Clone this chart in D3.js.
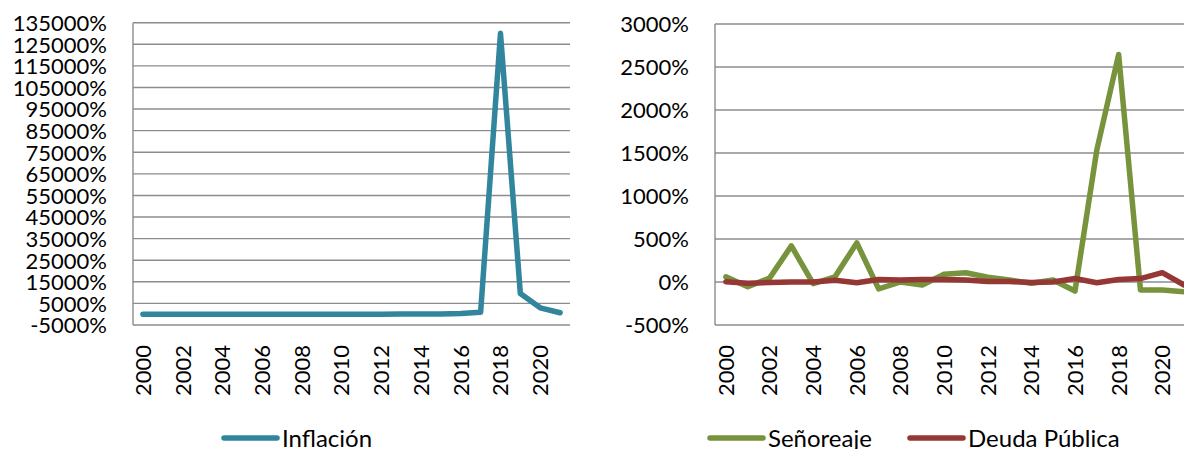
<!DOCTYPE html>
<html>
<head>
<meta charset="utf-8">
<script src="https://cdn.jsdelivr.net/npm/d3@7"></script>
<style>
  html, body { margin: 0; padding: 0; background: #fff; }
  svg { display: block; }
  text { font-family: Lato, "Open Sans", sans-serif; fill: #000; }
</style>
</head>
<body>
<svg id="chart" width="1184" height="449"></svg>
<script>
// Years on the category axis
const years = d3.range(2000, 2022);
const yearLabels = years.filter(y => y % 2 === 0);

// Annual inflation (%)
const inflacion = [16, 13, 22, 31, 22, 16, 14, 19, 31, 26, 28, 26, 21, 41, 62, 122, 274, 863, 130060, 9585, 2960, 686];

// Seigniorage and public debt growth (%)
const senoreaje = [60, -55, 45, 420, -20, 60, 455, -80, 0, -35, 90, 108, 55, 23, -15, 23, -105, 1535, 2645, -93, -93, -113];
const deudaPublica = [3, -15, -5, 0, 0, 20, -8, 30, 23, 30, 30, 23, 5, 5, -5, 0, 40, -8, 30, 40, 108, -35];

// Axis tick values
const leftTicks = d3.range(-5000, 135001, 10000);
const rightTicks = d3.range(-500, 3001, 500);

const colors = { inflacion: "#31859C", senoreaje: "#77933C", deuda: "#953735" };

const svg = d3.select("#chart");
const gridColor = "#8c8c8c";
const fontSize = 22;
const legendFontSize = 24;

function panel(opts) {
  const g = svg.append("g");
  const x = d3.scaleBand().domain(years).range([opts.x0, opts.x1]).padding(0);
  const y = d3.scaleLinear().domain(opts.domain).range([opts.yBottom, opts.yTop]);

  // Horizontal gridlines
  g.append("g").selectAll("line").data(opts.ticks).join("line")
    .attr("x1", opts.x0).attr("x2", opts.x1)
    .attr("y1", d => y(d)).attr("y2", d => y(d))
    .attr("stroke", gridColor).attr("stroke-width", 1.4);

  // Vertical axis line
  g.append("line")
    .attr("x1", opts.x0).attr("x2", opts.x0)
    .attr("y1", y(opts.domain[1])).attr("y2", y(opts.domain[0]))
    .attr("stroke", gridColor).attr("stroke-width", 1.4);

  // Y tick labels
  const yAxis = d3.axisLeft(y).tickValues(opts.ticks).tickSize(0).tickPadding(26)
    .tickFormat(d => d + "%");
  const ya = g.append("g").attr("transform", `translate(${opts.x0},0)`).call(yAxis);
  ya.select(".domain").remove();
  ya.selectAll("text").attr("font-size", fontSize).attr("font-family", "Lato, sans-serif")
    .attr("fill", "#000").attr("dy", "0.36em");

  // X tick labels (rotated)
  g.append("g").selectAll("text").data(yearLabels).join("text")
    .attr("transform", d => `translate(${x(d) + x.bandwidth() / 2},${opts.yBottom + 20}) rotate(-90)`)
    .attr("text-anchor", "end").attr("dy", "0.36em")
    .attr("font-size", fontSize)
    .text(d => d);

  // Series lines
  const line = d3.line()
    .x((d, i) => x(years[i]) + x.bandwidth() / 2)
    .y(d => y(d));
  opts.series.forEach(s => {
    g.append("path").datum(s.values)
      .attr("d", line)
      .attr("fill", "none")
      .attr("stroke", s.color)
      .attr("stroke-width", 5.5)
      .attr("stroke-linejoin", "round")
      .attr("stroke-linecap", "round");
  });

  // Legend
  opts.legend.forEach(l => {
    g.append("line")
      .attr("x1", l.x).attr("x2", l.x + 53)
      .attr("y1", 438).attr("y2", 438)
      .attr("stroke", l.color).attr("stroke-width", 5.5)
      .attr("stroke-linecap", "round");
    g.append("text")
      .attr("x", l.x + 58).attr("y", 438).attr("dy", "0.36em")
      .attr("font-size", legendFontSize)
      .text(l.label);
  });
}

panel({
  x0: 133, x1: 570, yTop: 22.7, yBottom: 325,
  domain: [-5000, 135000], ticks: leftTicks,
  series: [{ values: inflacion, color: colors.inflacion }],
  legend: [{ x: 224, label: "Inflación", color: colors.inflacion }]
});

panel({
  x0: 715, x1: 1195, yTop: 24, yBottom: 325,
  domain: [-500, 3000], ticks: rightTicks,
  series: [
    { values: senoreaje, color: colors.senoreaje },
    { values: deudaPublica, color: colors.deuda }
  ],
  legend: [
    { x: 710, label: "Señoreaje", color: colors.senoreaje },
    { x: 910, label: "Deuda Pública", color: colors.deuda }
  ]
});
</script>
</body>
</html>
